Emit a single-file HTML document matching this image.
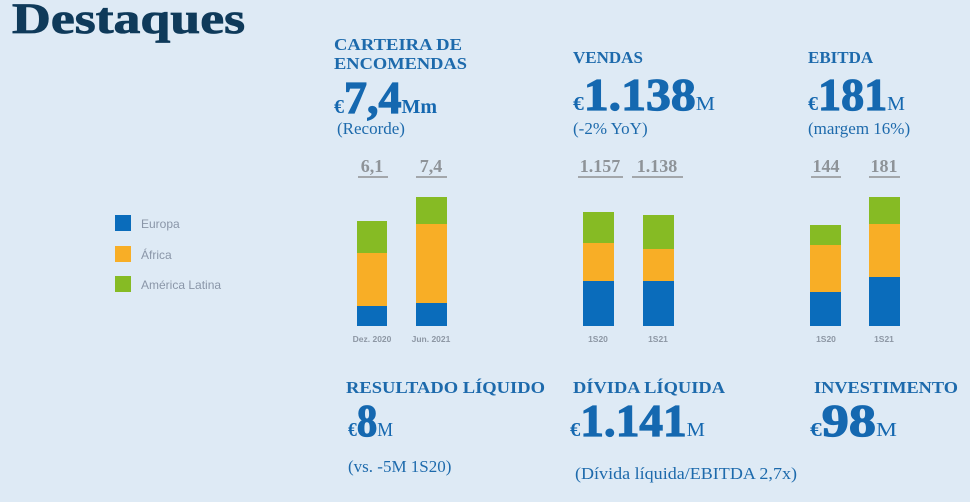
<!DOCTYPE html>
<html><head><meta charset="utf-8"><style>
html,body{margin:0;padding:0;background:#deeaf5;}
svg{display:block}
.s{font-family:"Liberation Serif",serif;font-weight:bold}
.t{fill:#1d6aac;font-size:17px}
.b{fill:#1568b0}
.big{stroke:#1568b0;stroke-width:1.2}
.n{fill:#1d6aac;font-weight:normal;font-size:17px}
.v{fill:#8e9398;font-size:18px;text-anchor:middle}
.c{font-family:"Liberation Sans",sans-serif;font-size:8.5px;font-weight:bold;fill:#8d97a4;text-anchor:middle}
.l{font-family:"Liberation Sans",sans-serif;font-size:12px;fill:#8a96a8}
</style></head><body>
<svg width="970" height="502" viewBox="0 0 970 502">
<rect width="970" height="502" fill="#deeaf5"/>
<text x="12" y="33" class="s" font-size="43" fill="#0f3a5a" stroke="#0f3a5a" stroke-width="0.8" textLength="233" lengthAdjust="spacingAndGlyphs">Destaques</text>

<rect x="115" y="215" width="16" height="16" fill="#0a6cbb"/>
<rect x="115" y="246" width="16" height="16" fill="#f8ae26"/>
<rect x="115" y="276" width="16" height="16" fill="#86bb24"/>
<text x="141" y="228" class="l">Europa</text>
<text x="141" y="259" class="l">África</text>
<text x="141" y="289" class="l">América Latina</text>

<text x="334" y="50" class="s t" textLength="128" lengthAdjust="spacingAndGlyphs">CARTEIRA DE</text>
<text x="334" y="69" class="s t" textLength="133" lengthAdjust="spacingAndGlyphs">ENCOMENDAS</text>
<text x="334" y="113" class="s b"><tspan font-size="20">€</tspan><tspan font-size="46" class="big">7,4</tspan><tspan font-size="20">Mm</tspan></text>
<text x="337" y="134" class="s n">(Recorde)</text>

<text x="573" y="63" class="s t">VENDAS</text>
<text x="573" y="110" class="s b" textLength="142" lengthAdjust="spacingAndGlyphs"><tspan font-size="20">€</tspan><tspan font-size="46" class="big">1.138</tspan><tspan font-size="20" font-weight="normal">M</tspan></text>
<text x="573" y="134" class="s n">(-2% YoY)</text>

<text x="808" y="63" class="s t">EBITDA</text>
<text x="808" y="110" class="s b" textLength="97" lengthAdjust="spacingAndGlyphs"><tspan font-size="20">€</tspan><tspan font-size="46" class="big">181</tspan><tspan font-size="20" font-weight="normal">M</tspan></text>
<text x="808" y="134" class="s n">(margem 16%)</text>

<g class="s">
<text x="372" y="172" class="v">6,1</text>
<text x="431" y="172" class="v">7,4</text>
<text x="600" y="172" class="v">1.157</text>
<text x="657" y="172" class="v">1.138</text>
<text x="826" y="172" class="v">144</text>
<text x="884" y="172" class="v">181</text>
</g>
<g fill="#a3a7ab">
<rect x="358" y="176" width="30" height="2"/>
<rect x="416" y="176" width="31" height="2"/>
<rect x="578" y="176" width="45" height="2"/>
<rect x="632" y="176" width="51" height="2"/>
<rect x="811" y="176" width="30" height="2"/>
<rect x="869" y="176" width="31" height="2"/>
</g>

<g>
<rect x="357" y="221" width="30" height="32" fill="#86bb24"/><rect x="357" y="253" width="30" height="53" fill="#f8ae26"/><rect x="357" y="306" width="30" height="20" fill="#0a6cbb"/>
<rect x="416" y="197" width="31" height="27" fill="#86bb24"/><rect x="416" y="224" width="31" height="79" fill="#f8ae26"/><rect x="416" y="303" width="31" height="23" fill="#0a6cbb"/>
<rect x="583" y="212" width="31" height="31" fill="#86bb24"/><rect x="583" y="243" width="31" height="38" fill="#f8ae26"/><rect x="583" y="281" width="31" height="45" fill="#0a6cbb"/>
<rect x="643" y="215" width="31" height="34" fill="#86bb24"/><rect x="643" y="249" width="31" height="32" fill="#f8ae26"/><rect x="643" y="281" width="31" height="45" fill="#0a6cbb"/>
<rect x="810" y="225" width="31" height="20" fill="#86bb24"/><rect x="810" y="245" width="31" height="47" fill="#f8ae26"/><rect x="810" y="292" width="31" height="34" fill="#0a6cbb"/>
<rect x="869" y="197" width="31" height="27" fill="#86bb24"/><rect x="869" y="224" width="31" height="53" fill="#f8ae26"/><rect x="869" y="277" width="31" height="49" fill="#0a6cbb"/>
</g>
<text x="372" y="342" class="c">Dez. 2020</text>
<text x="431" y="342" class="c">Jun. 2021</text>
<text x="598" y="342" class="c">1S20</text>
<text x="658" y="342" class="c">1S21</text>
<text x="826" y="342" class="c">1S20</text>
<text x="884" y="342" class="c">1S21</text>

<text x="346" y="393" class="s t" textLength="199" lengthAdjust="spacingAndGlyphs">RESULTADO LÍQUIDO</text>
<text x="573" y="393" class="s t" textLength="152" lengthAdjust="spacingAndGlyphs">DÍVIDA LÍQUIDA</text>
<text x="814" y="393" class="s t" textLength="144" lengthAdjust="spacingAndGlyphs">INVESTIMENTO</text>

<text x="348" y="436" class="s b" textLength="45" lengthAdjust="spacingAndGlyphs"><tspan font-size="20">€</tspan><tspan font-size="46" class="big">8</tspan><tspan font-size="20" font-weight="normal">M</tspan></text>
<text x="570" y="436" class="s b" textLength="135" lengthAdjust="spacingAndGlyphs"><tspan font-size="20">€</tspan><tspan font-size="46" class="big">1.141</tspan><tspan font-size="20" font-weight="normal">M</tspan></text>
<text x="810" y="436" class="s b" textLength="87" lengthAdjust="spacingAndGlyphs"><tspan font-size="20">€</tspan><tspan font-size="46" class="big">98</tspan><tspan font-size="20" font-weight="normal">M</tspan></text>

<text x="348" y="472" class="s n">(vs. -5M 1S20)</text>
<text x="575" y="479" class="s n" textLength="222" lengthAdjust="spacingAndGlyphs">(Dívida líquida/EBITDA 2,7x)</text>
</svg>
</body></html>
